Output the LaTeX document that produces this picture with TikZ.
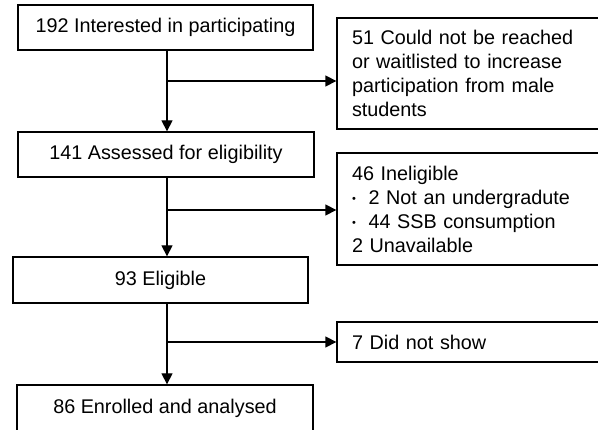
\documentclass[tikz,border=0pt]{standalone}
\usepackage{fontspec}
\setmainfont{Liberation Sans}
\usetikzlibrary{arrows.meta}
\newcommand{\bul}{\makebox[16.5pt][l]{{\fontsize{11}{11}\selectfont\raisebox{1.5pt}{•}}}}
\tikzset{
  every node/.style={font=\fontsize{19.8}{24}\selectfont},
  lbox/.style={draw=black, line width=1.3pt, inner sep=0pt, align=center},
  rbox/.style={draw=black, line width=1.3pt, inner xsep=15pt, inner ysep=0pt, align=left, text width=243pt, minimum width=273pt},
  arr/.style={line width=1.3pt, -{Triangle[length=11pt,width=11pt]}},
  ln/.style={line width=1.3pt}
}
\begin{document}
\begin{tikzpicture}[x=1pt,y=-1pt]
\useasboundingbox (0,0) rectangle (598,430);
\clip (0,0) rectangle (598,430);
% left column
\node[lbox, minimum width=295pt, minimum height=45pt] (b1) at (165.5,27.5) {192 Interested in participating};
\node[lbox, minimum width=296pt, minimum height=45pt] (b3) at (166,154.5) {141 Assessed for eligibility};
\node[lbox, minimum width=295pt, minimum height=46pt] (b5) at (160.5,280) {93 Eligible};
\node[lbox, minimum width=296pt, minimum height=46pt] (b7) at (165,408) {86 Enrolled and analysed};
% right column
\node[rbox, minimum height=111pt] (b2) at (473.5,73.5) {51 Could not be reached\\or waitlisted to increase\\participation from male\\students};
\node[rbox, minimum height=112pt] (b4) at (473.5,209) {46 Ineligible\\\bul2 Not an undergradute\\\bul44 SSB consumption\\2 Unavailable};
\node[rbox, minimum height=40pt] (b6) at (473.5,342) {7 Did not show};
% spine and junctions
\coordinate (sp) at (167,0);
\coordinate (j1) at (167,81);
\coordinate (j2) at (167,210);
\coordinate (j3) at (167,342);
\draw[arr] (b1.south -| sp) -- (b3.north -| sp);
\draw[arr] (b3.south -| sp) -- (b5.north -| sp);
\draw[arr] (b5.south -| sp) -- (b7.north -| sp);
\draw[arr] (j1) -- (j1 -| b2.west);
\draw[arr] (j2) -- (j2 -| b4.west);
\draw[arr] (j3) -- (j3 -| b6.west);
\end{tikzpicture}
\end{document}
